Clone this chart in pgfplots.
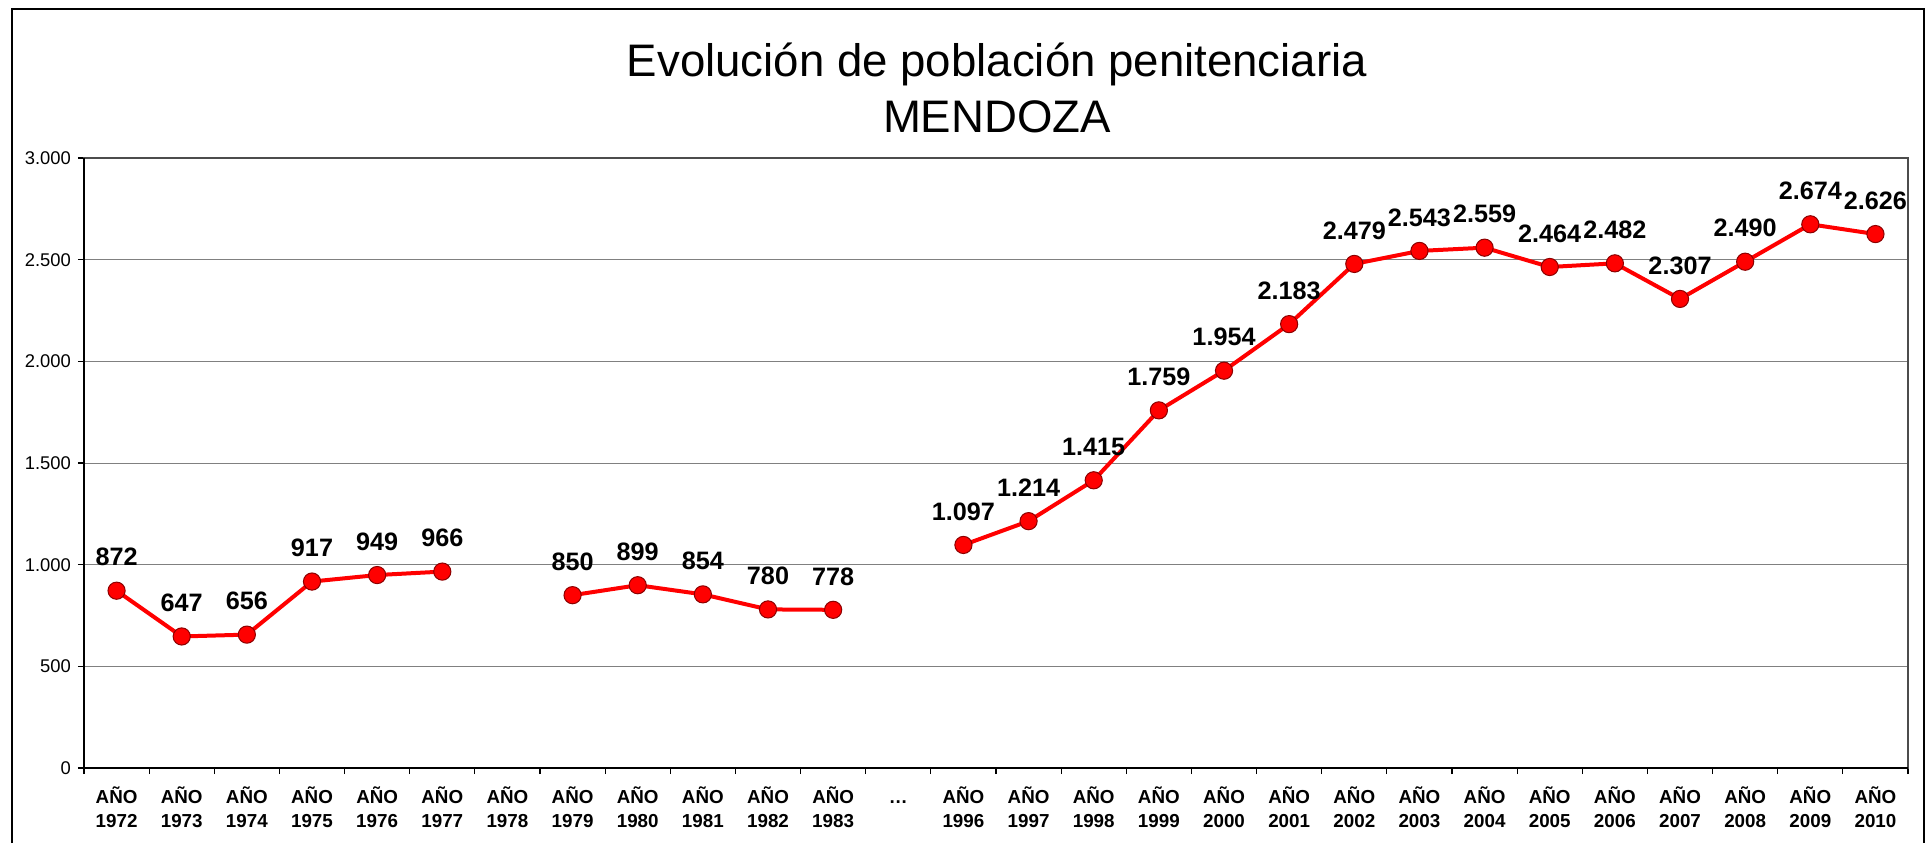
\documentclass[border=0pt]{standalone}
\usepackage{fontspec}
\setmainfont{Liberation Sans}
\usepackage{pgfplots}
\usepackage{pgfplotstable}
\pgfplotsset{compat=1.18}

\definecolor{gridgray}{RGB}{128,128,128}
\definecolor{linered}{RGB}{255,0,0}
\definecolor{edgered}{RGB}{140,0,0}

% population by category (nan = no data / break)
\pgfplotstableread{
idx pop
0 872
1 647
2 656
3 917
4 949
5 966
6 nan
7 850
8 899
9 854
10 780
11 778
12 nan
13 1097
14 1214
15 1415
16 1759
17 1954
18 2183
19 2479
20 2543
21 2559
22 2464
23 2482
24 2307
25 2490
26 2674
27 2626
}\mendoza

\begin{document}
\begin{tikzpicture}
\path[use as bounding box] (0,0) rectangle (965pt,421.5pt);
% outer frame
\draw[line width=0.9pt] (6pt,0) -- (6pt,417pt) -- (962pt,417pt) -- (962pt,0);
\node[align=center, font=\fontsize{22.8}{28}\selectfont] at (498.5pt,377.5pt)
  {Evolución de población penitenciaria\\MENDOZA};
\begin{axis}[
    at={(42pt,37.5pt)}, anchor=south west,
    scale only axis,
    width=912pt, height=305pt,
    xmin=-0.5, xmax=27.5,
    ymin=0, ymax=3000,
    ytick={0,500,...,3000},
    xtick={0,...,27},
    xticklabels={{AÑO\\1972},{AÑO\\1973},{AÑO\\1974},{AÑO\\1975},{AÑO\\1976},{AÑO\\1977},{AÑO\\1978},{AÑO\\1979},{AÑO\\1980},{AÑO\\1981},{AÑO\\1982},{AÑO\\1983},{\vphantom{AÑO}…\\\vphantom{1}},{AÑO\\1996},{AÑO\\1997},{AÑO\\1998},{AÑO\\1999},{AÑO\\2000},{AÑO\\2001},{AÑO\\2002},{AÑO\\2003},{AÑO\\2004},{AÑO\\2005},{AÑO\\2006},{AÑO\\2007},{AÑO\\2008},{AÑO\\2009},{AÑO\\2010}},
    minor xtick={-0.5,0.5,...,27.5},
    major x tick style={draw=none},
    xtick pos=bottom, ytick pos=left,
    tick align=outside,
    major tick length=3pt,
    minor tick length=3pt,
    tick style={black, line width=0.6pt},
    xticklabel style={align=center, font=\bfseries\fontsize{9.4}{11.7}\selectfont, yshift=-3pt},
    yticklabel style={font=\fontsize{9.2}{11}\selectfont},
    ymajorgrids,
    grid style={gridgray, line width=0.5pt},
    axis line style={draw=gray!60!black, line width=0.6pt},
    /pgf/number format/.cd, fixed, precision=0, 1000 sep={.}, assume math mode=true,
    /pgfplots/.cd,
    unbounded coords=jump,
    nodes near coords,
    nodes near coords style={anchor=south, inner sep=0pt, yshift=12pt,
        font=\bfseries\fontsize{12.6}{14}\selectfont, black},
    clip=false,
]
\addplot[linered, line width=2pt, mark=*, mark size=4.3pt,
    mark options={fill=linered, draw=edgered, line width=0.5pt}]
    table[x=idx, y=pop] {\mendoza};
\draw[black, line width=0.9pt] (rel axis cs:0,1) -- (rel axis cs:0,0) -- (rel axis cs:1,0);
\end{axis}
\end{tikzpicture}
\end{document}
